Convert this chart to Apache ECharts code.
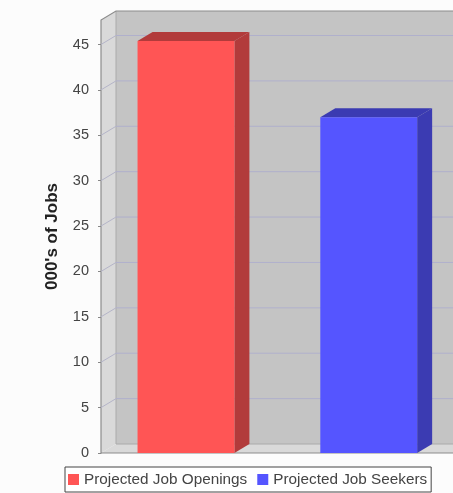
<!DOCTYPE html>
<html><head><meta charset="utf-8">
<script src="https://cdn.jsdelivr.net/npm/echarts@6/dist/echarts.min.js"></script>
<style>html,body{margin:0;padding:0;background:#fcfcfc}#c{width:453px;height:493px}</style>
</head><body><div id="c"></div>
<script>
// ---- data ----
const seriesNames = ['Projected Job Openings', 'Projected Job Seekers'];
const openingsValues = [45.4];
const seekersValues = [37.0];
const yTicks = [0, 5, 10, 15, 20, 25, 30, 35, 40, 45];
const yMax = 47.7;
const yTitle = "000's of Jobs";

// ---- styles ----
const frontColors = ['#ff5555', '#5555ff'];
const sideColors = ['#b23b3b', '#3b3bb2'];
const DX = 15, DY = 9;       // 3D depth offset
const FONT = 'Liberation Sans, Arial, sans-serif';

function wallRender(params, api) {
  const cs = params.coordSys;
  const x0 = cs.x, xr = cs.x + cs.width + 60;
  const yTop = cs.y, yBot = cs.y + cs.height;
  const v = api.value(1);
  const y = api.coord([0, v])[1];
  const children = [];
  if (params.dataIndex === 0) {
    children.push(
      {type: 'rect', shape: {x: x0 + DX, y: yTop - DY, width: xr - x0, height: cs.height}, style: {fill: '#c4c4c4'}},
      {type: 'polygon', shape: {points: [[x0, yTop], [x0 + DX, yTop - DY], [x0 + DX, yBot - DY], [x0, yBot]]}, style: {fill: '#d9d9d9'}},
      {type: 'polygon', shape: {points: [[x0, yBot], [x0 + DX, yBot - DY], [xr, yBot - DY], [xr, yBot]]}, style: {fill: '#d9d9d9'}},
      {type: 'polyline', shape: {points: [[x0 + DX, yTop - DY], [x0 + DX, yBot - DY], [xr, yBot - DY]]}, style: {stroke: '#aaaaaa', lineWidth: 1, fill: null}},
      {type: 'polyline', shape: {points: [[xr, yTop - DY], [x0 + DX, yTop - DY], [x0, yTop], [x0, yBot], [xr, yBot]]}, style: {stroke: '#8c8c8c', lineWidth: 1.2, fill: null}}
    );
  }
  if (v > 0) {
    children.push(
      {type: 'line', shape: {x1: x0, y1: y, x2: x0 + DX, y2: y - DY}, style: {stroke: '#b4b4c8', lineWidth: 1}},
      {type: 'line', shape: {x1: x0 + DX, y1: y - DY, x2: xr, y2: y - DY}, style: {stroke: '#b0b0cc', lineWidth: 1}}
    );
  }
  return {type: 'group', children};
}

function barRender(sideColor) {
  return function (params, api) {
    const cat = api.value(0), v = api.value(1);
    const top = api.coord([cat, v]);
    const bot = api.coord([cat, 0]);
    const bw = api.size([1, 0])[0] * 0.53;
    const x0 = top[0] - bw / 2, x1 = top[0] + bw / 2, yt = top[1], yb = bot[1];
    return {type: 'group', children: [
      {type: 'polygon', shape: {points: [[x1, yt], [x1 + DX, yt - DY], [x1 + DX, yb - DY], [x1, yb]]}, style: {fill: sideColor}},
      {type: 'polygon', shape: {points: [[x0, yt], [x0 + DX, yt - DY], [x1 + DX, yt - DY], [x1, yt]]}, style: {fill: sideColor}},
      {type: 'rect', shape: {x: x0, y: yt, width: bw, height: yb - yt}, style: {fill: api.visual('color')}}
    ]};
  };
}

const chart = echarts.init(document.getElementById('c'), null, {renderer: 'canvas'});
chart.setOption({
  backgroundColor: '#fcfcfc',
  animation: false,
  textStyle: {fontFamily: FONT},
  grid: [
    {left: 101, top: 20, bottom: 40, right: -40, outerBoundsMode: 'none', containLabel: false},
    {left: 94.6, top: 20, bottom: 40, right: -7.1, outerBoundsMode: 'none', containLabel: false}
  ],
  xAxis: [
    {gridIndex: 0, type: 'value', min: 0, max: 1, show: false},
    {gridIndex: 1, type: 'category', data: seriesNames, show: false}
  ],
  yAxis: [
    {
      gridIndex: 0, type: 'value', min: 0, max: yMax, position: 'left', offset: 3,
      axisLine: {show: true, lineStyle: {color: '#888888', width: 1}},
      axisTick: {show: true, length: 3, customValues: yTicks, lineStyle: {color: '#888888'}},
      axisLabel: {customValues: yTicks, fontSize: 14.5, color: '#444444', margin: 9, fontFamily: FONT},
      splitLine: {show: false},
      name: yTitle, nameLocation: 'middle', nameGap: 37, nameRotate: 90,
      nameTextStyle: {fontSize: 17, fontWeight: 'bold', color: '#222222', fontFamily: FONT}
    },
    {gridIndex: 1, type: 'value', min: 0, max: yMax, show: false}
  ],
  legend: {
    data: seriesNames, left: 65, top: 467, orient: 'horizontal',
    padding: [5, 4, 5, 3], borderColor: '#444444', borderWidth: 1, backgroundColor: '#ffffff',
    itemWidth: 11, itemHeight: 11, itemGap: 10, icon: 'rect',
    textStyle: {fontSize: 15.3, color: '#444444', fontFamily: FONT}
  },
  series: [
    {
      name: 'walls', type: 'custom', xAxisIndex: 0, yAxisIndex: 0, silent: true, z: 1,
      renderItem: wallRender, data: yTicks.map(v => [0, v])
    },
    {
      name: seriesNames[0], type: 'custom', xAxisIndex: 1, yAxisIndex: 1, z: 5,
      itemStyle: {color: frontColors[0]},
      renderItem: barRender(sideColors[0]),
      data: openingsValues.map(v => [seriesNames[0], v])
    },
    {
      name: seriesNames[1], type: 'custom', xAxisIndex: 1, yAxisIndex: 1, z: 5,
      itemStyle: {color: frontColors[1]},
      renderItem: barRender(sideColors[1]),
      data: seekersValues.map(v => [seriesNames[1], v])
    }
  ]
});
</script>
</body></html>
